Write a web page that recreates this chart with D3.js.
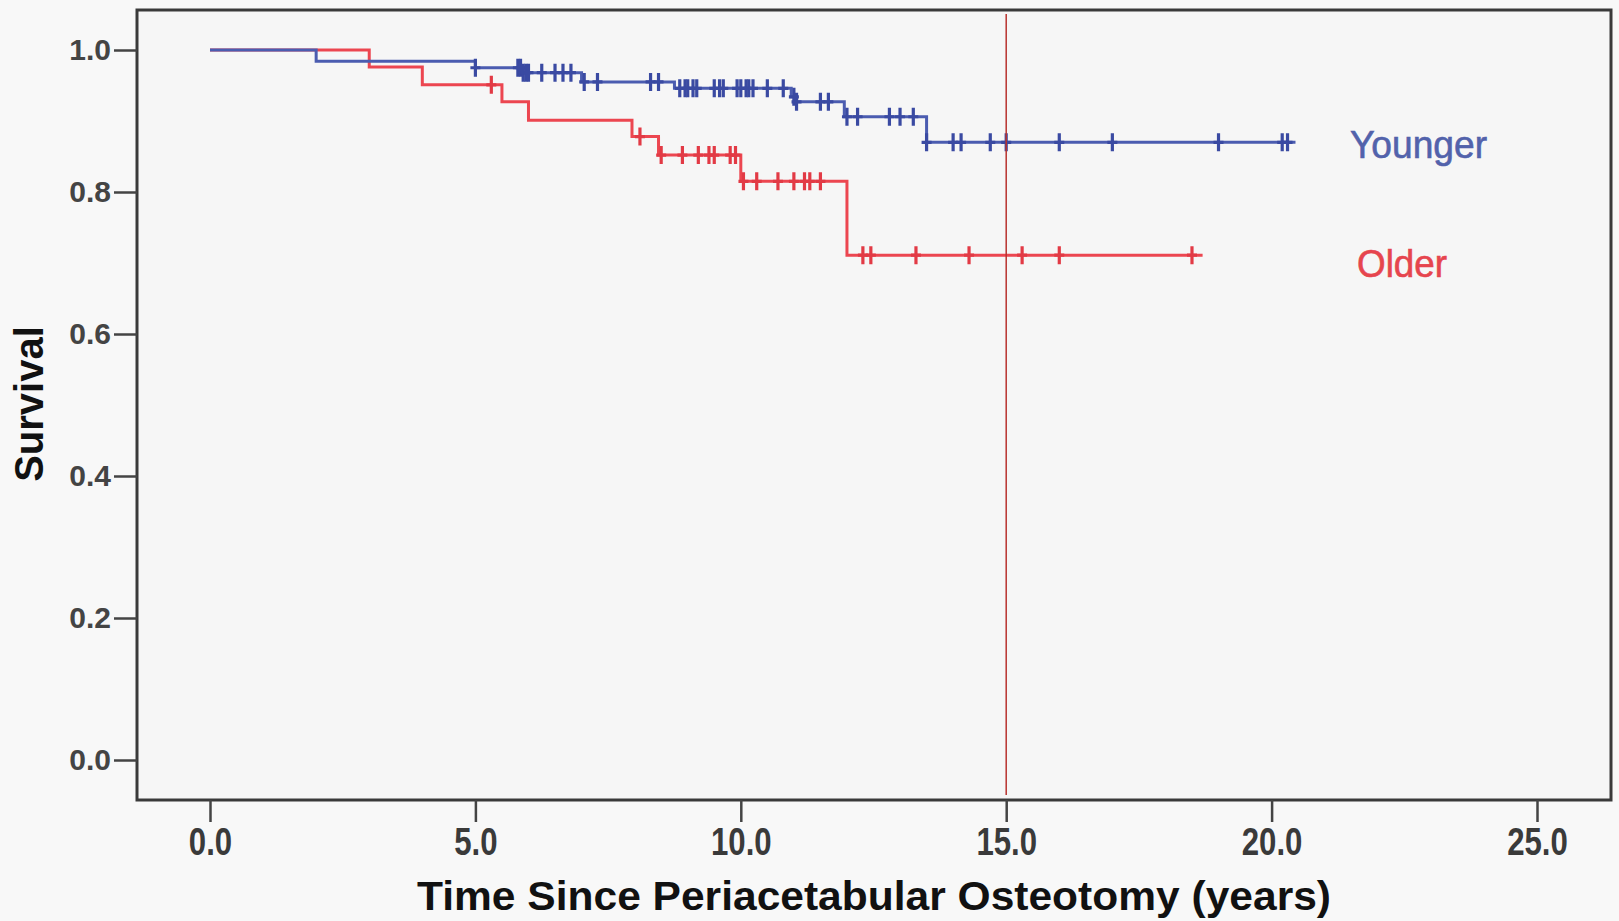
<!DOCTYPE html>
<html>
<head>
<meta charset="utf-8">
<script src="https://cdn.jsdelivr.net/npm/d3@7"></script>
<style>
  html, body { margin: 0; padding: 0; background: #f8f8f8; }
  svg { display: block; }
</style>
</head>
<body>
<div class="canvas"></div>
<script>
// Kaplan-Meier data (time in years, survival after step)
const youngerStepTimes = [0, 2.0, 5.0, 5.9, 7.0, 8.75, 10.95, 11.05, 11.95, 13.5];
const youngerStepSurv  = [1.0, 0.984, 0.975, 0.968, 0.955, 0.946, 0.934, 0.927, 0.906, 0.870];
const youngerEnd = 20.45;
const youngerCensored = [5.0, 5.8, 5.85, 5.9, 5.95, 6.0, 6.25, 6.5, 6.65, 6.8,
  7.05, 7.3, 8.3, 8.45,
  8.85, 8.95, 9.0, 9.1, 9.17, 9.5, 9.6, 9.67, 9.93, 10.0, 10.1, 10.15, 10.23, 10.5, 10.8,
  11.0, 11.05, 11.5, 11.65,
  12.0, 12.2, 12.8, 13.0, 13.25,
  13.5, 14.0, 14.15, 14.7, 15.0, 16.0, 17.0, 19.0, 20.2, 20.3];

const olderStepTimes = [0, 3.0, 4.0, 5.5, 6.0, 7.95, 8.45, 10.0, 12.0];
const olderStepSurv  = [1.0, 0.976, 0.951, 0.927, 0.901, 0.878, 0.852, 0.815, 0.711];
const olderEnd = 18.7;
const olderCensored = [5.3, 8.1,
  8.5, 8.9, 9.2, 9.4, 9.5, 9.8, 9.9,
  10.05, 10.3, 10.7, 11.0, 11.2, 11.3, 11.5,
  12.3, 12.45, 13.3, 14.3, 15.3, 16.0, 18.5];

const xTicks = [0, 5, 10, 15, 20, 25];
const yTicks = [0, 0.2, 0.4, 0.6, 0.8, 1.0];
const refLineTime = 15;

// Chart dimensions
const dims = {width: 1619, height: 921};
const frame = {left: 137, top: 10, right: 1611, bottom: 800};

const svg = d3.select('.canvas')
    .append('svg')
    .attr('width', dims.width)
    .attr('height', dims.height);

svg.append('rect')
    .attr('width', dims.width).attr('height', dims.height)
    .attr('fill', '#f8f8f8');

// plot frame
svg.append('rect')
    .attr('x', frame.left).attr('y', frame.top)
    .attr('width', frame.right - frame.left)
    .attr('height', frame.bottom - frame.top)
    .attr('fill', '#f6f6f6')
    .attr('stroke', '#3a3a3a')
    .attr('stroke-width', 3);

// scales
const x = d3.scaleLinear().domain([0, 25]).range([210, 1537]);
const y = d3.scaleLinear().domain([0, 1]).range([760, 50]);

// y axis
const yAxis = d3.axisLeft(y)
    .tickValues(yTicks)
    .tickFormat(d3.format('.1f'))
    .tickSize(23)
    .tickPadding(3);

const yG = svg.append('g')
    .attr('transform', `translate(${frame.left},0)`)
    .call(yAxis);
yG.select('.domain').remove();
yG.selectAll('line').attr('stroke', '#444').attr('stroke-width', 2.5);
yG.selectAll('text')
    .attr('font-family', 'Liberation Sans, Arial, sans-serif')
    .attr('font-weight', 'bold')
    .attr('font-size', 30)
    .attr('fill', '#444');

// x axis
const xAxis = d3.axisBottom(x)
    .tickValues(xTicks)
    .tickFormat(d3.format('.1f'))
    .tickSize(22)
    .tickPadding(6);

const xG = svg.append('g')
    .attr('transform', `translate(0,${frame.bottom})`)
    .call(xAxis);
xG.select('.domain').remove();
xG.selectAll('line').attr('stroke', '#444').attr('stroke-width', 2.5);
// condensed look: squeeze each label to ~83% of its natural width
xG.selectAll('text')
    .attr('font-family', 'Liberation Sans, Arial, sans-serif')
    .attr('font-weight', 'bold')
    .attr('font-size', 38)
    .attr('fill', '#3a3a3a')
    .each(function() {
        const w = this.getComputedTextLength();
        d3.select(this)
            .attr('textLength', w * 0.82)
            .attr('lengthAdjust', 'spacingAndGlyphs');
    });

// axis titles
svg.append('text')
    .attr('x', 874).attr('y', 910)
    .attr('text-anchor', 'middle')
    .attr('font-family', 'Liberation Sans, Arial, sans-serif')
    .attr('font-weight', 'bold')
    .attr('font-size', 41)
    .attr('fill', '#111')
    .attr('textLength', 914)
    .attr('lengthAdjust', 'spacingAndGlyphs')
    .text('Time Since Periacetabular Osteotomy (years)');

svg.append('text')
    .attr('transform', 'translate(43,404) rotate(-90)')
    .attr('text-anchor', 'middle')
    .attr('font-family', 'Liberation Sans, Arial, sans-serif')
    .attr('font-weight', 'bold')
    .attr('font-size', 40)
    .attr('fill', '#111')
    .text('Survival');

// step function helper
const survAt = (times, surv, t) => {
    let s = surv[0];
    times.forEach((tt, i) => { if (tt <= t) s = surv[i]; });
    return s;
};

const line = d3.line()
    .x(d => x(d[0]))
    .y(d => y(d[1]))
    .curve(d3.curveStepAfter);

const groups = [
    {name: 'Younger', times: youngerStepTimes, surv: youngerStepSurv, end: youngerEnd,
     cens: youngerCensored, color: '#4b5cb0', mark: '#3a4aa2'},
    {name: 'Older', times: olderStepTimes, surv: olderStepSurv, end: olderEnd,
     cens: olderCensored, color: '#ec4650', mark: '#e23a45'}
];

// older drawn first so younger sits on top
groups.slice().reverse().forEach(g => {
    const pts = g.times.map((t, i) => [t, g.surv[i]]);
    pts.push([g.end, g.surv[g.surv.length - 1]]);

    svg.append('path')
        .attr('d', line(pts))
        .attr('fill', 'none')
        .attr('stroke', g.color)
        .attr('stroke-width', 3);

    svg.append('g').selectAll('path')
        .data(g.cens)
        .enter().append('path')
        .attr('transform', d => `translate(${x(d)},${y(survAt(g.times, g.surv, d))})`)
        .attr('d', 'M-5,0H5M0,-9V9')
        .attr('stroke', g.mark)
        .attr('stroke-width', 3.2)
        .attr('fill', 'none');
});

// 15-year reference line
svg.append('line')
    .attr('x1', x(refLineTime)).attr('x2', x(refLineTime))
    .attr('y1', 14).attr('y2', 795)
    .attr('stroke', '#b8322e')
    .attr('stroke-width', 1.5);

// series labels
svg.append('text')
    .attr('x', 1350).attr('y', 158)
    .attr('font-family', 'Liberation Sans, Arial, sans-serif')
    .attr('font-size', 38)
    .attr('fill', '#5262ab')
    .attr('stroke', '#5262ab')
    .attr('stroke-width', 0.6)
    .attr('textLength', 137)
    .attr('lengthAdjust', 'spacingAndGlyphs')
    .text('Younger');

svg.append('text')
    .attr('x', 1357).attr('y', 277)
    .attr('font-family', 'Liberation Sans, Arial, sans-serif')
    .attr('font-size', 38)
    .attr('fill', '#e6454e')
    .attr('stroke', '#e6454e')
    .attr('stroke-width', 0.6)
    .attr('textLength', 90)
    .attr('lengthAdjust', 'spacingAndGlyphs')
    .text('Older');
</script>
</body>
</html>
